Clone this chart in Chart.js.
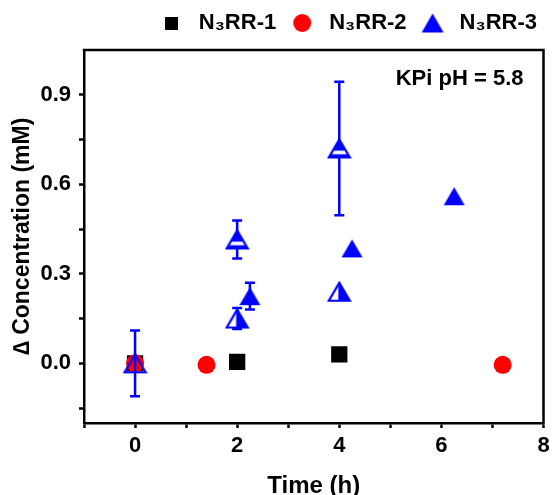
<!DOCTYPE html>
<html>
<head>
<meta charset="utf-8">
<script src="https://cdn.jsdelivr.net/npm/chart.js@4/dist/chart.umd.min.js"></script>
<style>
  html, body { margin: 0; padding: 0; background: #fff; }
  #wrap { width: 555px; height: 495px; }
</style>
</head>
<body>
<div id="wrap"><canvas id="c" width="555" height="495"></canvas></div>
<script>
// ---- data ----
const seriesNames = ['N\u2083RR-1', 'N\u2083RR-2', 'N\u2083RR-3'];
const time1 = [0, 2, 4];
const conc1 = [0, 0.005, 0.03];
const time2 = [0, 1.4, 7.2];
const conc2 = [0, -0.005, -0.005];
const time3 = [0, 2, 2, 2.25, 4, 4, 4.25, 6.25];
const conc3 = [0, 0.415, 0.15, 0.225, 0.72, 0.24, 0.385, 0.56];
const err3  = [0.11, 0.064, 0.035, 0.045, 0.224, 0, 0, 0];
const xTicks = [-1, 0, 1, 2, 3, 4, 5, 6, 7, 8];
const xTickLabels = [0, 2, 4, 6, 8];
const yTicks = [-0.15, 0, 0.15, 0.3, 0.45, 0.6, 0.75, 0.9];
const yTickLabels = [0, 0.3, 0.6, 0.9];
const xTitle = 'Time (h)';
const yTitle = '\u2206 Concentration (mM)';
const note = 'KPi pH = 5.8';

const FONT = "'Liberation Sans', Arial, Helvetica, sans-serif";
const BLUE = '#0000ff', RED = '#ff0000', BLACK = '#000000';

function pts(xs, ys) { return xs.map((x, i) => ({ x: x, y: ys[i] })); }

// ---- marker images ----
function triCanvas(kind, w, h) {
  const pad = 2;
  const c = document.createElement('canvas');
  c.width = w + pad * 2; c.height = h + pad * 2;
  const g = c.getContext('2d');
  const cx = c.width / 2, top = pad, bot = pad + h, l = pad, r = pad + w;
  const path = () => { g.beginPath(); g.moveTo(cx, top); g.lineTo(r, bot); g.lineTo(l, bot); g.closePath(); };
  if (kind === 'full') {
    path(); g.fillStyle = BLUE; g.fill();
    return c;
  }
  g.save(); path(); g.clip();
  if (kind === 'stripe') {
    g.fillStyle = BLUE; g.fillRect(0, 0, c.width, c.height);
    g.fillStyle = '#fff'; g.fillRect(0, top + h * 0.62, c.width, h * 0.2);
  } else if (kind === 'half') {
    g.fillStyle = '#fff'; g.fillRect(0, 0, c.width, c.height);
    g.fillStyle = BLUE; g.fillRect(cx - 1, 0, c.width, c.height);
  }
  g.restore();
  path(); g.strokeStyle = BLUE; g.lineWidth = 2.2; g.lineJoin = 'miter'; g.stroke();
  return c;
}
function sqCanvas(s) {
  const c = document.createElement('canvas'); c.width = s; c.height = s;
  const g = c.getContext('2d'); g.fillStyle = BLACK; g.fillRect(0, 0, s, s); return c;
}
function circCanvas(r) {
  const c = document.createElement('canvas'); c.width = 2 * r + 2; c.height = 2 * r + 2;
  const g = c.getContext('2d'); g.fillStyle = RED; g.beginPath(); g.arc(r + 1, r + 1, r, 0, Math.PI * 2); g.fill(); return c;
}
const triFull = triCanvas('full', 21, 18);
const triStripe = triCanvas('stripe', 21, 18);
const triHalf = triCanvas('half', 21, 18);
const triOpen = triCanvas('open', 21, 18);
const legendMarks = [sqCanvas(13), circCanvas(9), triCanvas('full', 22, 19)];

// ---- plugins ----
const errorBars = {
  id: 'errorBars',
  beforeDatasetDraw(chart, args) {
    const ds = chart.data.datasets[args.index];
    if (!ds.errors) return;
    const meta = chart.getDatasetMeta(args.index);
    const ys = chart.scales.y;
    const ctx = chart.ctx;
    ctx.save();
    ctx.strokeStyle = BLUE; ctx.lineWidth = 2.5; ctx.lineCap = 'butt';
    meta.data.forEach((el, i) => {
      const e = ds.errors[i];
      if (!e) return;
      const v = ds.data[i].y;
      const yt = ys.getPixelForValue(v + e), yb = ys.getPixelForValue(v - e);
      ctx.beginPath();
      ctx.moveTo(el.x, yt); ctx.lineTo(el.x, yb);
      ctx.moveTo(el.x - 5, yt); ctx.lineTo(el.x + 5, yt);
      ctx.moveTo(el.x - 5, yb); ctx.lineTo(el.x + 5, yb);
      ctx.stroke();
    });
    ctx.restore();
  }
};
const frame = {
  id: 'frame',
  afterDraw(chart) {
    const { ctx, chartArea: a } = chart;
    ctx.save();
    ctx.strokeStyle = BLACK; ctx.lineWidth = 2.5;
    ctx.beginPath();
    ctx.moveTo(a.left - 1.25, a.top); ctx.lineTo(a.right, a.top); ctx.lineTo(a.right, a.bottom + 1.25);
    ctx.stroke();
    ctx.fillStyle = BLACK;
    ctx.font = 'bold 22px ' + FONT;
    ctx.textAlign = 'right'; ctx.textBaseline = 'middle';
    ctx.fillText(note, a.right - 20, a.top + 29);
    ctx.restore();
  }
};

const tickFont = { family: FONT, size: 22, weight: 'bold' };

new Chart(document.getElementById('c'), {
  type: 'scatter',
  data: {
    datasets: [
      { label: seriesNames[0], data: pts(time1, conc1), order: 3,
        pointStyle: 'rect', pointRadius: 11.5, backgroundColor: BLACK, borderColor: BLACK, borderWidth: 0 },
      { label: seriesNames[1], data: pts(time2, conc2), order: 2,
        pointStyle: 'circle', pointRadius: 9, backgroundColor: RED, borderColor: RED, borderWidth: 0 },
      { label: seriesNames[2], data: pts(time3, conc3), errors: err3, order: 1,
        pointStyle: [triOpen, triStripe, triHalf, triFull, triStripe, triHalf, triFull, triFull],
        backgroundColor: BLUE, borderColor: BLUE, borderWidth: 0 }
    ]
  },
  options: {
    responsive: false,
    animation: false,
    events: [],
    layout: { padding: { top: 2, right: 8, bottom: 0, left: 0 } },
    plugins: {
      title: { display: true, text: '', padding: 0, weight: 500, font: { size: 6, lineHeight: 1 } },
      tooltip: { enabled: false },
      legend: {
        position: 'top', align: 'end',
        labels: {
          usePointStyle: true, pointStyleWidth: 32, padding: 10,
          color: BLACK, font: { family: FONT, size: 22, weight: 'bold' },
          sort: (a, b) => a.datasetIndex - b.datasetIndex,
          generateLabels(chart) {
            const items = Chart.defaults.plugins.legend.labels.generateLabels(chart);
            items.forEach(it => { it.pointStyle = legendMarks[it.datasetIndex]; });
            return items;
          }
        }
      }
    },
    scales: {
      x: {
        type: 'linear', min: -1, max: 8,
        afterBuildTicks(s) { s.ticks = xTicks.map(v => ({ value: v })); },
        afterFit(s) { s.height = 72; },
        ticks: {
          font: tickFont, color: BLACK, padding: 5, autoSkip: false, maxRotation: 0,
          callback: v => xTickLabels.includes(v) ? String(v) : ''
        },
        grid: { drawOnChartArea: false, drawTicks: true, tickLength: 5, tickWidth: 2.5, tickColor: BLACK },
        border: { display: true, color: BLACK, width: 2.5 },
        title: { display: true, text: xTitle, color: BLACK, font: { family: FONT, size: 24, weight: 'bold', lineHeight: 1 }, padding: { top: 0, bottom: -3 } }
      },
      y: {
        type: 'linear', min: -0.2, max: 1.05,
        afterBuildTicks(s) { s.ticks = yTicks.map(v => ({ value: v })); },
        afterFit(s) { s.width = 84; },
        ticks: {
          font: tickFont, color: BLACK, padding: 8, autoSkip: false,
          callback: v => yTickLabels.some(t => Math.abs(t - v) < 1e-9) ? v.toFixed(1) : ''
        },
        grid: { drawOnChartArea: false, drawTicks: true, tickLength: 5, tickWidth: 2.5, tickColor: BLACK },
        border: { display: true, color: BLACK, width: 2.5 },
        title: { display: true, text: yTitle, color: BLACK, font: { family: FONT, size: 23, weight: 'bold', lineHeight: 1.2 }, padding: { top: 9, bottom: 0 } }
      }
    }
  },
  plugins: [errorBars, frame]
});
</script>
</body>
</html>
